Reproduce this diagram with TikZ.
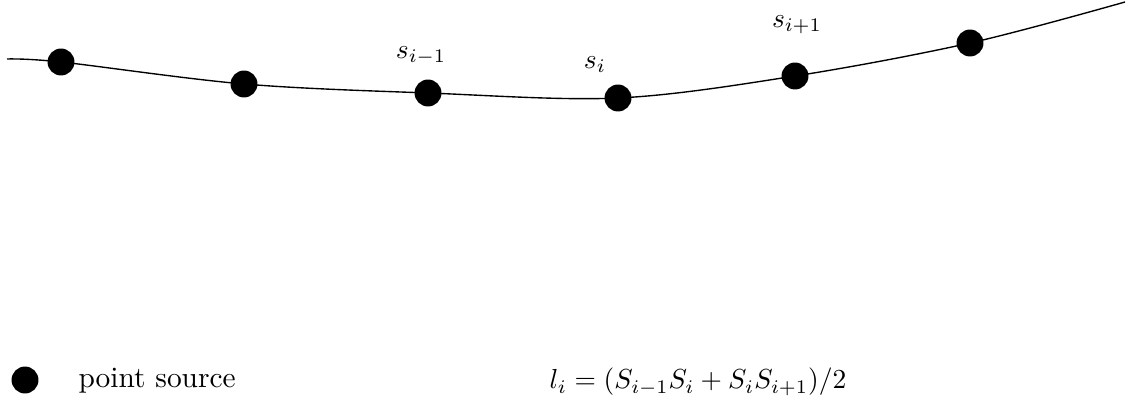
\documentclass[tikz,border=0pt]{standalone}
\begin{document}
\begin{tikzpicture}[x=0.3636pt,y=-0.3636pt,
  src/.style={circle,fill=black,inner sep=0pt,minimum size=9.8pt},
  lbl/.style={inner sep=0pt}]
\useasboundingbox (0,0) rectangle (1128,406);
\coordinate (a) at (7,59);
\coordinate (z) at (1125,2);
\node[src] (p1) at (61,62) {};
\node[src] (p2) at (244,84) {};
\node[src] (p3) at (428,93) {};
\node[src] (p4) at (618,98) {};
\node[src] (p5) at (795,76) {};
\node[src] (p6) at (970,43) {};
\draw[line width=0.5pt] plot[smooth,tension=0.55] coordinates {(a) (p1.center) (p2.center) (p3.center) (p4.center) (p5.center) (p6.center) (z)};
\node[lbl] (l3) at (421,56) {$s_{i-1}$};
\node[lbl] (l4) at (595,65) {$s_i$};
\node[lbl] (l5) at (797,25) {$s_{i+1}$};
\node[src] (leg) at (25,380) {};
\node[lbl,anchor=west,font=\fontsize{10.7}{13}\selectfont] (legt) at (78,381) {point source};
\node[lbl,font=\fontsize{9.6}{12}\selectfont] (f) at (698,382) {$l_i = (S_{i-1}S_i + S_iS_{i+1})/2$};
\end{tikzpicture}
\end{document}
